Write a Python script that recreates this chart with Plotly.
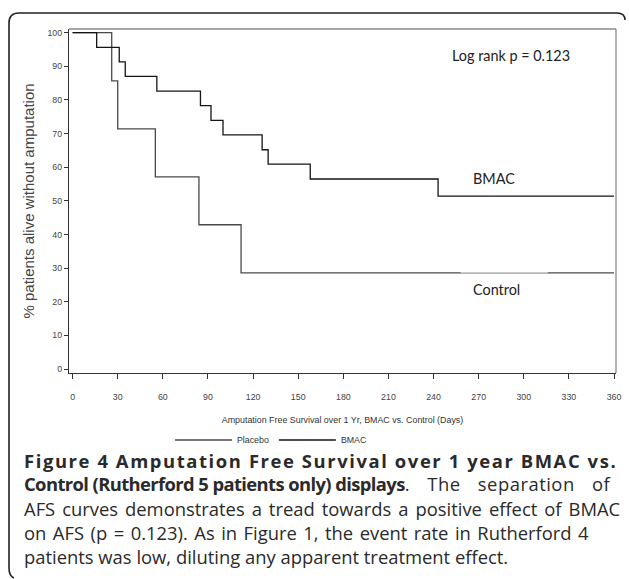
import plotly.graph_objects as go

# ---- data ----
control_days = [0, 26, 30, 55, 84, 112, 360]
control_surv = [100, 85.7, 71.4, 57.1, 42.9, 28.6, 28.6]
bmac_days = [0, 16, 31, 35, 56, 85, 92, 100, 126, 130, 158, 243, 360]
bmac_surv = [100, 95.65, 91.3, 87.0, 82.6, 78.3, 73.9, 69.6, 65.2, 60.9, 56.5, 51.4, 51.4]
x_ticks = list(range(0, 361, 30))
y_ticks = list(range(0, 101, 10))

W, H = 629, 579
L, R, T, B = 69, 13, 29, 206
PW, PH = W - L - R, H - T - B


def px(x):
    return (x - L) / PW


def py(y):
    return (H - B - y) / PH


fig = go.Figure()
fig.add_trace(go.Scatter(x=control_days, y=control_surv, mode="lines", line_shape="hv",
                         name="Placebo", line=dict(color="#4a4a4a", width=1.3)))
fig.add_trace(go.Scatter(x=bmac_days, y=bmac_surv, mode="lines", line_shape="hv",
                         name="BMAC", line=dict(color="#151515", width=1.3)))

tickfont = dict(family="Liberation Sans, Arial", size=8.8, color="#444")
fig.update_xaxes(range=[-2.4, 361.3], tickvals=x_ticks, ticks="outside", ticklen=5,
                 tickcolor="#333", showline=True, linecolor="#333", linewidth=1.3,
                 showgrid=False, zeroline=False, tickfont=tickfont, ticklabelstandoff=10,
                 title=dict(text="Amputation Free Survival over 1 Yr, BMAC vs. Control (Days)",
                            font=dict(family="Liberation Sans, Arial", size=8.9, color="#333"),
                            standoff=16))
fig.update_yaxes(range=[-1.19, 101.1], tickvals=y_ticks, ticks="outside", ticklen=4,
                 tickcolor="#333", showline=True, linecolor="#333", linewidth=1.3,
                 showgrid=False, zeroline=False, tickfont=tickfont,
                 title=dict(text="% patients alive without amputation",
                            font=dict(family="Liberation Sans, Arial", size=15, color="#444"),
                            standoff=9))

shapes = [
    dict(type="line", xref="paper", yref="paper", x0=0, x1=1, y0=1, y1=1,
         line=dict(color="#8a8a8a", width=1.3)),
    dict(type="line", xref="paper", yref="paper", x0=1, x1=1, y0=0, y1=1,
         line=dict(color="#8a8a8a", width=1.3)),
    # light segment over the control line (label box)
    dict(type="line", xref="x", yref="y", x0=258, x1=316, y0=control_surv[-1], y1=control_surv[-1],
         line=dict(color="#c8c8c8", width=1.6)),
]
frame = (f"M {px(625)},{py(20)} Q {px(625)},{py(13)} {px(617)},{py(13)} "
         f"L {px(19)},{py(13)} Q {px(9)},{py(13)} {px(9)},{py(23)} "
         f"L {px(9)},{py(568)} Q {px(9)},{py(576)} {px(14)},{py(578)}")
shapes.append(dict(type="path", xref="paper", yref="paper", path=frame,
                   line=dict(color="#222", width=1.6)))

lab_font = dict(family="Lato", size=14.4, color="#222")
annots = [
    dict(text="Log rank p = 0.123", x=px(450), y=py(55), xanchor="left", yanchor="middle",
         font=lab_font),
    dict(text="BMAC", x=px(471), y=py(178), xanchor="left", yanchor="middle", font=lab_font),
    dict(text="Control", x=px(471), y=py(289), xanchor="left", yanchor="middle", font=lab_font),
]

cap_font = dict(family="Open Sans", size=18.4, color="#2a2a2a")
cap_lines = [
    ('<b><span style="letter-spacing:1.6px">Figure 4 Amputation Free Survival over 1 year BMAC vs.</span></b>', 460),
    ('<b><span style="letter-spacing:-0.6px">Control (Rutherford 5 patients only) displays</span></b>'
     '<span style="letter-spacing:0.5px;word-spacing:12px">. The separation of</span>', 484),
    ('<span style="word-spacing:2.2px">AFS curves demonstrates a tread towards a positive effect of BMAC</span>', 508),
    ('<span style="word-spacing:1.7px">on AFS (p = 0.123). As in Figure 1, the event rate in Rutherford 4</span>', 532),
    ('patients was low, diluting any apparent treatment effect.', 556),
]
for t, yy in cap_lines:
    annots.append(dict(text=t, x=px(22), y=py(yy), xanchor="left", yanchor="middle",
                       font=cap_font))
for a in annots:
    a.update(xref="paper", yref="paper", showarrow=False)

fig.update_layout(
    width=W, height=H, margin=dict(l=L, r=R, t=T, b=B, autoexpand=False),
    paper_bgcolor="white", plot_bgcolor="white",
    shapes=shapes, annotations=annots,
    legend=dict(orientation="h", x=px(170), xanchor="left", y=py(440), yanchor="middle",
                font=dict(family="Liberation Sans, Arial", size=8.8, color="#333"),
                itemwidth=57),
)
fig.write_html("out.html")
